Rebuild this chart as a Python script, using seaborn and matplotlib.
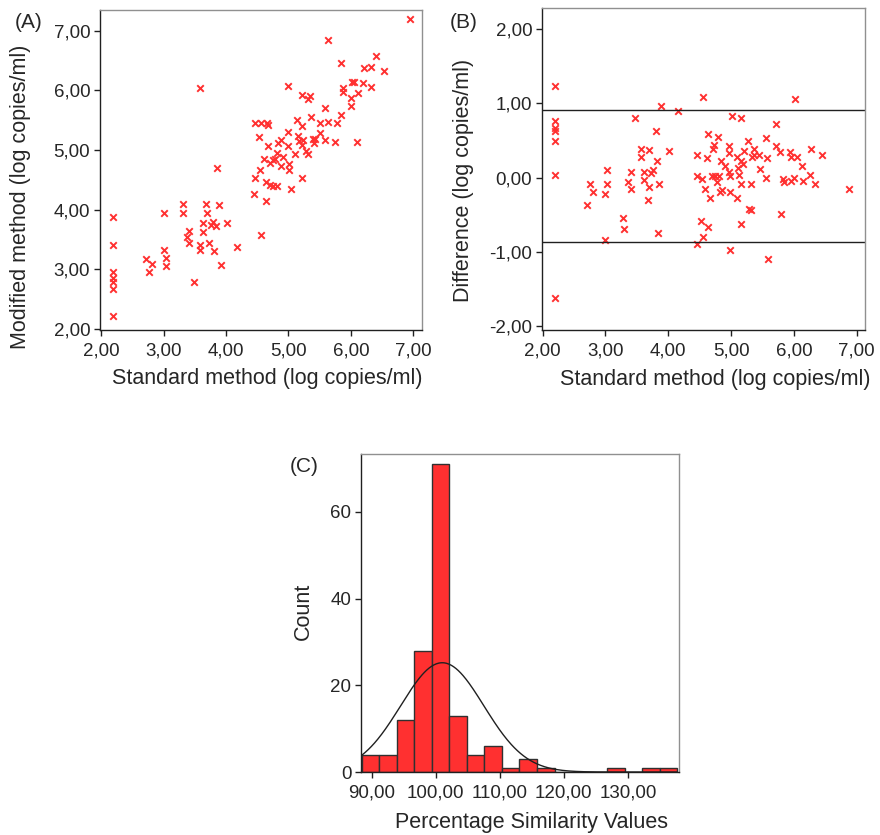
import numpy as np
import matplotlib
matplotlib.use('Agg')
import matplotlib.pyplot as plt
import seaborn as sns
import pandas as pd
from matplotlib.ticker import FuncFormatter

# Panel A: standard vs modified method (log copies/ml)
a_standard = [2.19, 2.19, 2.19, 2.19, 2.19, 2.19, 2.19,
              2.72, 2.81, 2.77, 3.00, 3.00, 3.04, 3.04, 3.31, 3.31, 3.40, 3.38, 3.41, 3.49,
              3.58, 3.58, 3.58, 3.63, 3.63, 3.68, 3.70, 3.72, 3.76, 3.79, 3.81, 3.84, 3.86,
              3.88, 3.92, 4.02, 4.18, 4.45, 4.47, 4.47, 4.52, 4.55, 4.56, 4.56, 4.60, 4.64,
              4.64, 4.67, 4.68, 4.70, 4.71, 4.75, 4.76, 4.79, 4.81, 4.81, 4.83, 4.88, 4.88,
              4.92, 5.00, 5.00, 5.00, 5.01, 5.01, 5.04, 5.11, 5.13, 5.16, 5.17, 5.21, 5.21,
              5.21, 5.21, 5.24, 5.28, 5.32, 5.32, 5.35, 5.36, 5.39, 5.41, 5.43, 5.50, 5.51,
              5.59, 5.59, 5.64, 5.64, 5.75, 5.78, 5.84, 5.84, 5.87, 5.88, 6.00, 6.00, 6.01,
              6.05, 6.10, 6.12, 6.20, 6.21, 6.32, 6.33, 6.41, 6.53, 6.95, 4.65]
a_modified = [3.88, 3.41, 2.95, 2.85, 2.78, 2.67, 2.22,
              3.17, 3.09, 2.95, 3.94, 3.33, 3.19, 3.05, 4.09, 3.94, 3.64, 3.54, 3.44, 2.79,
              6.04, 3.40, 3.32, 3.77, 3.62, 4.10, 3.94, 3.44, 3.75, 3.79, 3.30, 3.73, 4.70,
              4.07, 3.07, 3.78, 3.38, 4.27, 4.53, 5.46, 5.22, 4.67, 5.46, 3.58, 4.85, 4.47,
              4.15, 5.42, 5.06, 4.78, 4.41, 4.40, 4.83, 4.85, 4.95, 4.40, 5.12, 5.17, 4.74,
              4.89, 6.08, 5.30, 5.06, 4.77, 4.67, 4.34, 4.94, 5.50, 5.23, 5.15, 5.93, 5.41,
              5.09, 4.53, 5.17, 4.98, 4.94, 5.85, 5.90, 5.55, 5.18, 5.11, 5.18, 5.28, 5.46,
              5.17, 5.70, 6.85, 5.47, 5.13, 5.46, 6.46, 5.58, 5.98, 6.04, 5.87, 5.74, 6.15,
              6.15, 5.13, 5.96, 6.12, 6.37, 6.40, 6.05, 6.57, 6.32, 7.20, 5.46]

# Panel B: difference vs standard method
b_standard = [2.19, 2.19, 2.19, 2.19, 2.19, 2.19, 2.19,
              2.70, 2.76, 2.80, 2.99, 2.99, 3.02, 3.02, 3.28, 3.29, 3.36, 3.40, 3.40, 3.47,
              3.57, 3.57, 3.61, 3.61, 3.68, 3.70, 3.70, 3.73, 3.76, 3.80, 3.82, 3.83, 3.86,
              3.89, 4.01, 4.16, 4.45, 4.45, 4.46, 4.52, 4.53, 4.55, 4.55, 4.59, 4.62, 4.63,
              4.64, 4.67, 4.70, 4.71, 4.73, 4.75, 4.78, 4.79, 4.80, 4.82, 4.84, 4.86, 4.91,
              4.96, 4.97, 4.97, 4.98, 4.98, 4.99, 5.01, 5.09, 5.09, 5.11, 5.12, 5.15, 5.16,
              5.16, 5.16, 5.19, 5.21, 5.27, 5.28, 5.31, 5.31, 5.33, 5.36, 5.36, 5.45, 5.46,
              5.55, 5.55, 5.57, 5.59, 5.71, 5.72, 5.78, 5.80, 5.83, 5.84, 5.94, 5.95, 5.95,
              6.00, 6.02, 6.05, 6.13, 6.14, 6.26, 6.27, 6.34, 6.45, 6.87]
b_difference = [1.23, 0.76, 0.66, 0.63, 0.49, 0.04, -1.62,
                -0.37, -0.09, -0.20, -0.22, -0.84, 0.10, -0.08, -0.54, -0.69, -0.06, 0.08, -0.15, 0.80,
                0.38, 0.28, 0.08, -0.03, -0.30, 0.37, -0.13, 0.06, 0.10, 0.62, 0.22, -0.74, -0.09,
                0.96, 0.36, 0.89, 0.30, 0.02, -0.90, -0.58, -0.02, 1.08, -0.80, -0.15, 0.26, 0.58,
                -0.67, -0.27, 0.02, 0.39, 0.44, 0.02, -0.06, 0.54, 0.02, -0.19, 0.22, -0.17, 0.16,
                0.42, 0.33, 0.07, -0.19, -0.98, 0.02, 0.83, 0.28, -0.28, 0.13, 0.03, 0.22, 0.80,
                -0.09, -0.63, 0.18, 0.36, 0.49, -0.42, -0.43, -0.08, 0.27, 0.39, 0.31, 0.31, 0.11,
                0.53, -0.01, 0.26, -1.09, 0.72, 0.43, 0.35, -0.49, -0.02, -0.06, 0.35, 0.27, -0.04,
                0.00, 1.06, 0.27, 0.16, -0.04, 0.03, 0.38, -0.08, 0.31, -0.16]
upper_limit = 0.905
lower_limit = -0.865

# Panel C: histogram of percentage similarity values
bin_start = 88.44
bin_width = 2.737
bin_counts = [4, 4, 12, 28, 71, 13, 4, 6, 1, 3, 1, 0, 0, 0, 1, 0, 1, 1]
fit_mean = 101.0
fit_sd = 6.5

RED = '#ff3030'
sns.set_style('white')
plt.rcParams['font.family'] = ['Liberation Sans', 'DejaVu Sans']

comma2 = FuncFormatter(lambda v, p: f'{v:.2f}'.replace('.', ','))
TICK_FS = 13.5
LABEL_FS = 15.5
PANEL_FS = 15


def style_axes(ax):
    for side in ['top', 'right']:
        ax.spines[side].set_color('#909090')
        ax.spines[side].set_linewidth(1.0)
    for side in ['left', 'bottom']:
        ax.spines[side].set_color('#202020')
        ax.spines[side].set_linewidth(1.0)
    ax.tick_params(axis='both', direction='out', length=4, width=1,
                   color='#202020', labelsize=TICK_FS,
                   left=True, bottom=True)
    ax.tick_params(axis='x', pad=5)
    ax.tick_params(axis='y', pad=3)


fig = plt.figure(figsize=(8.8, 8.35), dpi=100)

# (A) scatter
ax_a = fig.add_axes([0.1136, 0.6048, 0.366, 0.3832])
df_a = pd.DataFrame({'standard': a_standard, 'modified': a_modified})
sns.scatterplot(data=df_a, x='standard', y='modified', marker='x', color=RED,
                s=22, linewidth=1.4, ax=ax_a)
ax_a.set_xlim(1.98, 7.14)
ax_a.set_ylim(1.98, 7.35)
ax_a.set_xticks([2, 3, 4, 5, 6, 7])
ax_a.set_yticks([2, 3, 4, 5, 6, 7])
ax_a.xaxis.set_major_formatter(comma2)
ax_a.yaxis.set_major_formatter(comma2)
ax_a.set_xlabel('Standard method (log copies/ml)', fontsize=LABEL_FS)
ax_a.set_ylabel('Modified method (log copies/ml)', fontsize=LABEL_FS)
ax_a.xaxis.set_label_coords(0.519, -0.118)
ax_a.yaxis.set_label_coords(-0.214, 0.416)
style_axes(ax_a)
fig.text(0.017, 0.9725, '(A)', fontsize=PANEL_FS, ha='left', va='center')

# (B) difference plot
ax_b = fig.add_axes([0.6159, 0.6048, 0.367, 0.3856])
df_b = pd.DataFrame({'standard': b_standard, 'difference': b_difference})
sns.scatterplot(data=df_b, x='standard', y='difference', marker='x', color=RED,
                s=22, linewidth=1.4, ax=ax_b)
ax_b.axhline(upper_limit, color='#202020', linewidth=1)
ax_b.axhline(lower_limit, color='#202020', linewidth=1)
ax_b.set_xlim(1.99, 7.13)
ax_b.set_ylim(-2.05, 2.28)
ax_b.set_xticks([2, 3, 4, 5, 6, 7])
ax_b.set_yticks([-2, -1, 0, 1, 2])
ax_b.xaxis.set_major_formatter(comma2)
ax_b.yaxis.set_major_formatter(comma2)
ax_b.set_xlabel('Standard method (log copies/ml)', fontsize=LABEL_FS)
ax_b.set_ylabel('Difference (log copies/ml)', fontsize=LABEL_FS)
ax_b.xaxis.set_label_coords(0.536, -0.122)
ax_b.yaxis.set_label_coords(-0.211, 0.463)
style_axes(ax_b)
fig.text(0.511, 0.9725, '(B)', fontsize=PANEL_FS, ha='left', va='center')

# (C) histogram with normal curve
ax_c = fig.add_axes([0.4102, 0.0754, 0.3614, 0.3808])
edges = bin_start + bin_width * np.arange(len(bin_counts) + 1)
df_c = pd.DataFrame({'value': (edges[:-1] + edges[1:]) / 2, 'count': bin_counts})
sns.histplot(data=df_c, x='value', weights='count', bins=list(edges), color=RED, alpha=1,
             edgecolor='#303030', linewidth=1, ax=ax_c)
xs = np.linspace(edges[0], edges[-1], 400)
total = sum(bin_counts)
curve = total * bin_width / (fit_sd * np.sqrt(2 * np.pi)) * np.exp(-0.5 * ((xs - fit_mean) / fit_sd) ** 2)
sns.lineplot(x=xs, y=curve, color='#202020', linewidth=1, ax=ax_c)
ax_c.set_xlim(88.3, 138.0)
ax_c.set_ylim(0, 73.3)
ax_c.set_xticks([90, 100, 110, 120, 130])
ax_c.set_yticks([0, 20, 40, 60])
ax_c.xaxis.set_major_formatter(comma2)
ax_c.set_xlabel('Percentage Similarity Values', fontsize=LABEL_FS)
ax_c.set_ylabel('Count', fontsize=LABEL_FS)
ax_c.xaxis.set_label_coords(0.535, -0.127)
ax_c.yaxis.set_label_coords(-0.148, 0.506)
style_axes(ax_c)
fig.text(0.3295, 0.441, '(C)', fontsize=PANEL_FS, ha='left', va='center')

fig.savefig('out.png', dpi=100)
